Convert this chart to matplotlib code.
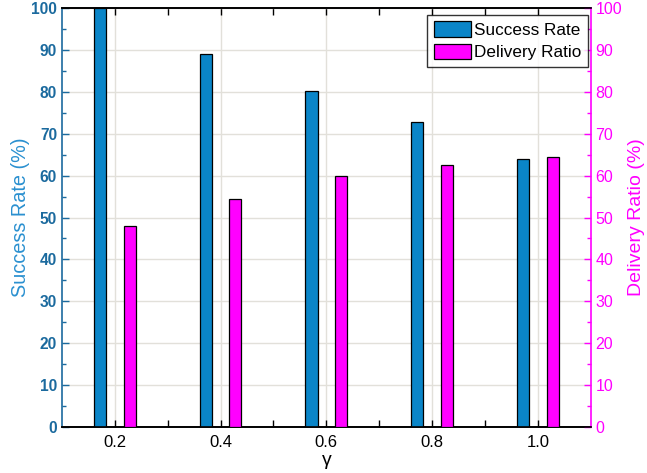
import matplotlib
matplotlib.use("Agg")
import matplotlib.pyplot as plt
from matplotlib.ticker import MultipleLocator, FixedLocator
from matplotlib.patches import Patch

plt.rcParams['font.family'] = ['Liberation Sans', 'DejaVu Sans']

gamma = [0.2, 0.4, 0.6, 0.8, 1.0]
gamma_labels = ['0.2', '0.4', '0.6', '0.8', '1.0']
success_rate = [100.0, 89.0, 80.2, 72.8, 64.0]
delivery_ratio = [48.0, 54.5, 60.0, 62.6, 64.4]

blue = '#0a85c8'
blue_tick = '#1b6a9e'
blue_label = '#2a90d0'
magenta = '#ff00ff'
grid_c = '#e2e0da'

fig = plt.figure(figsize=(6.47, 4.73), dpi=100)
ax = fig.add_axes([0.0958, 0.0973, 0.8172, 0.8857])
ax2 = ax.twinx()

w = 0.023
off = 0.028
ax.bar([g - off for g in gamma], success_rate, width=w, color=blue,
       edgecolor='black', linewidth=0.9, zorder=3)
ax2.bar([g + off for g in gamma], delivery_ratio, width=w, color=magenta,
        edgecolor='black', linewidth=0.9, zorder=3)

for a in (ax, ax2):
    a.set_ylim(0, 100)
    a.set_xlim(0.1, 1.1)
    a.yaxis.set_major_locator(MultipleLocator(10))
    a.yaxis.set_minor_locator(MultipleLocator(5))

ax.xaxis.set_major_locator(FixedLocator(gamma))
ax.set_xticklabels(gamma_labels)
ax.xaxis.set_minor_locator(FixedLocator([0.3, 0.5, 0.7, 0.9]))

ax.grid(True, which='major', color=grid_c, linewidth=1.0, zorder=0)
ax.set_axisbelow(True)

ax.tick_params(axis='x', which='both', direction='in', top=True, bottom=True,
               labelsize=12, colors='black', pad=6)
ax.tick_params(axis='x', which='major', length=5, width=1)
ax.tick_params(axis='x', which='minor', length=5, width=1)
ax.tick_params(axis='y', which='both', direction='in', right=False,
               labelsize=11.2, colors=blue_tick, width=1)
ax.tick_params(axis='y', which='major', length=5)
ax.tick_params(axis='y', which='minor', length=3)
for lbl in ax.get_yticklabels():
    lbl.set_fontweight('bold')

ax2.tick_params(axis='y', which='both', direction='in', labelsize=11.5,
                colors=magenta, width=1)
ax2.tick_params(axis='y', which='major', length=5)
ax2.tick_params(axis='y', which='minor', length=3)

ax.spines['left'].set_color(blue_tick)
ax2.spines['left'].set_visible(False)
ax2.spines['right'].set_color(magenta)
ax.spines['right'].set_visible(False)
for a in (ax, ax2):
    for s in a.spines.values():
        s.set_linewidth(1.2)

ax.set_xlabel('γ', fontsize=14, labelpad=1)
ax.set_ylabel('Success Rate (%)', fontsize=14.3, color=blue_label, labelpad=1)
ax2.set_ylabel('Delivery Ratio (%)', fontsize=14, color=magenta, labelpad=4)

handles = [Patch(facecolor=blue, edgecolor='black', linewidth=0.9, label='Success Rate'),
           Patch(facecolor=magenta, edgecolor='black', linewidth=0.9, label='Delivery Ratio')]
leg = ax2.legend(handles=handles, loc='upper right', fontsize=12.3,
                 bbox_to_anchor=(588 / 647, 1 - 15 / 473),
                 bbox_transform=fig.transFigure,
                 frameon=True, fancybox=False, edgecolor='black',
                 borderaxespad=0, handlelength=2.15, handleheight=0.98,
                 handletextpad=0.22, borderpad=0.38, labelspacing=0.35)
leg.get_frame().set_linewidth(1.0)

fig.savefig('out.png', dpi=100)
